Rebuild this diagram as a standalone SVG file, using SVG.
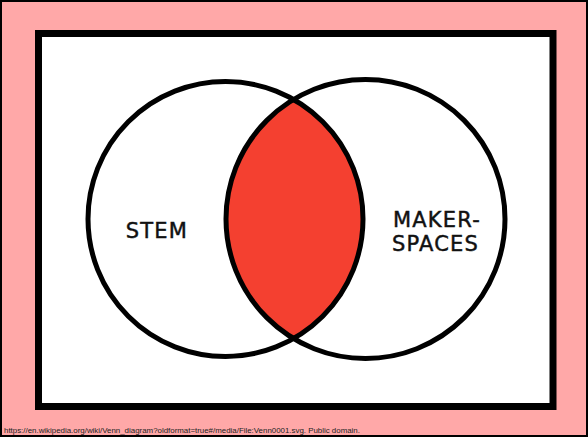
<svg xmlns="http://www.w3.org/2000/svg" width="588" height="437" viewBox="0 0 588 437">
<style>
.circle{fill:none;stroke:#000;stroke-width:5}
.label{font-family:"DejaVu Sans","Liberation Sans",sans-serif;font-size:21px;letter-spacing:1.2px;fill:#111;stroke:#111;stroke-width:0.45}
.credit{font-family:"Liberation Sans",sans-serif;font-size:7.9px;fill:#222}
</style>
<defs>
<clipPath id="leftClip"><circle cx="225.5" cy="219" r="137.5"/></clipPath>
</defs>
<rect x="0.5" y="0.5" width="587" height="436" fill="#ffa8a8" stroke="#000" stroke-width="3"/>
<rect x="38.5" y="33.5" width="514.5" height="373" fill="#fff" stroke="#000" stroke-width="7"/>
<g id="intersection">
<circle cx="365.5" cy="219" r="139.5" fill="#f44030" clip-path="url(#leftClip)"/>
</g>
<g id="connectors"></g>
<g id="stem">
<circle class="circle" cx="225.5" cy="219" r="137.5"/>
<text class="label" x="157" y="238" text-anchor="middle">STEM</text>
</g>
<g id="makerspaces">
<circle class="circle" cx="365.5" cy="219" r="139.5"/>
<text class="label" x="437" y="227" text-anchor="middle">MAKER-</text>
<text class="label" x="435.5" y="251" text-anchor="middle">SPACES</text>
</g>
<text class="credit" x="4" y="433">https://en.wikipedia.org/wiki/Venn_diagram?oldformat=true#/media/File:Venn0001.svg. Public domain.</text>
</svg>
